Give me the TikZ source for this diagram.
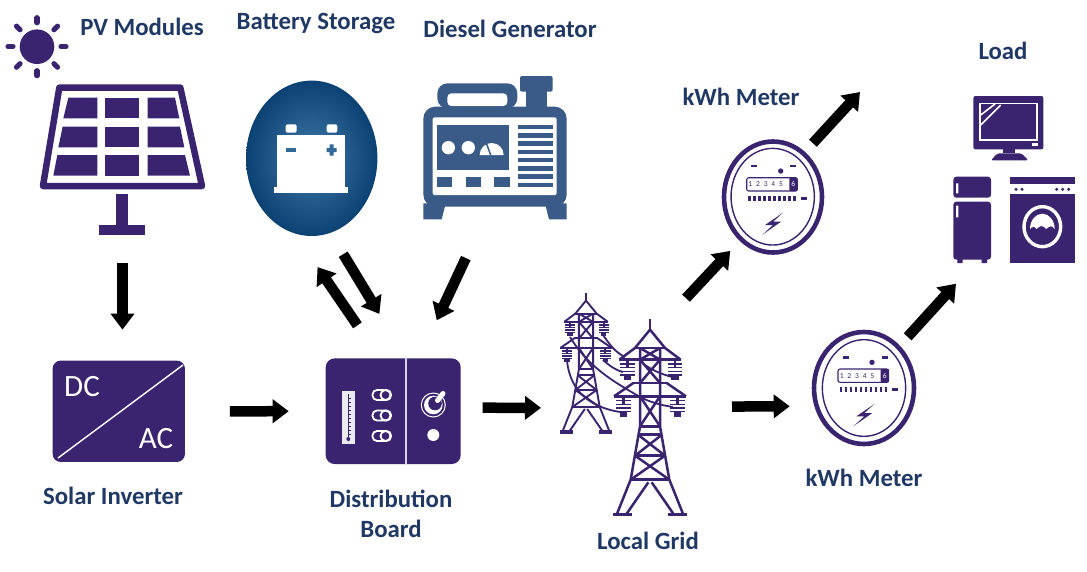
\documentclass[tikz,border=0pt]{standalone}
\usepackage{fontspec}
\setmainfont{Carlito}
\usetikzlibrary{arrows.meta,shapes.geometric}
\definecolor{iconpurple}{HTML}{3A2470}
\definecolor{labelnavy}{HTML}{1F3864}
\definecolor{gensteel}{HTML}{3A5B87}
\definecolor{battout}{HTML}{0C4273}
\definecolor{battin}{HTML}{3F78A8}
\tikzset{
  lbl/.style={font=\fontsize{24.8}{28}\selectfont\bfseries, text=labelnavy, align=center, inner sep=0pt},
  spot/.style={rectangle, inner sep=0pt, outer sep=0pt},
  flow/.style={->, line width=10.5pt, black},
  meterring/.style={ellipse, draw=iconpurple, line width=4.6pt, inner sep=0pt, outer sep=0pt, fill=white},
  pics/meterface/.style={code={
    \begin{scope}[scale=1/3, iconpurple]
      \draw[line width=1.4pt] (0,0) ellipse (125 and 145);
      \draw[line width=1.1pt, rounded corners=2pt] (-78,-57) rectangle (74,-17);
      \fill[rounded corners=1pt] (50,-57) rectangle (74,-17);
      \foreach \d in {1,...,5}
        \node[inner sep=0pt, font=\fontsize{7.5}{7.5}\selectfont, text=iconpurple] (dig\d) at (-90+\d*23,-37) {\d};
      \node[inner sep=0pt, font=\fontsize{7.5}{7.5}\selectfont, text=white] (dig6) at (62,-37) {6};
      \foreach \t in {0,...,9}
        \fill (-73+\t*15,-3) rectangle ++(7,16);
      \fill (84,1) rectangle (102,9);
      \fill (24,-77) circle (8);
      \fill (-64,-96) rectangle (-46,-88);
      \fill (53,-96) rectangle (71,-88);
      \fill (31,48) -- (-23,85) -- (1,85) -- (-31,114) -- (25,75) -- (1,75) -- cycle;
    \end{scope}
  }},
  pics/tower/.style={code={
    \begin{scope}[scale=1/3, draw=iconpurple, fill=iconpurple]
      \draw (0,0) -- (0,32);
      \draw (-92,122) -- (92,122) (-45,87) -- (45,87) (-50,192) -- (50,192) (-108,232) -- (108,232);
      \draw (-30,322) -- (30,322) (-36,347) -- (36,347) (-45,410) -- (45,410) (-58,482) -- (58,482);
      \draw (-30,87) -- (30,122) (30,87) -- (-30,122) (-30,122) -- (30,192) (30,122) -- (-30,192);
      \draw (-30,232) -- (30,322) (30,232) -- (-30,322);
      \draw (-36,347) -- (45,410) (36,347) -- (-45,410) (-45,410) -- (58,482) (45,410) -- (-58,482);
      \foreach \side in {-1,1} {
        \draw (0,32) -- (\side*45,87) -- (\side*92,122);
        \draw (\side*50,192) -- (\side*108,232);
        \draw (\side*30,87) -- (\side*30,322) -- (\side*58,482) -- (\side*100,587);
        \draw (\side*5,490) -- (\side*72,587);
        \draw[line width=3.4pt] (\side*55,587) -- (\side*110,587);
      }
      \foreach \ix/\iy in {-68/127,75/127,-80/237,82/237} {
        \draw (\ix,\iy) -- (\ix,\iy+20);
        \foreach \k in {8,19,30,41}
          \draw[line width=1.4pt] (\ix-22,\iy+\k) -- (\ix+22,\iy+\k);
        \fill (\ix-11,\iy+38) rectangle (\ix+11,\iy+56);
      }
    \end{scope}
  }}
}
\begin{document}
\begin{tikzpicture}[x=1pt, y=-1pt, >={Triangle[length=16pt,width=23pt]}]
  \useasboundingbox (0,0) rectangle (1087,571);
  % labels
  \node[lbl] (lblPV) at (142,27) {PV Modules};
  \node[lbl] (lblBatt) at (316,23) {Battery Storage};
  \node[lbl] (lblDiesel) at (510,29) {Diesel Generator};
  \node[lbl] (lblMeterA) at (741,97) {kWh Meter};
  \node[lbl] (lblLoad) at (1003,51) {Load};
  \node[lbl] (lblInv) at (113,496) {Solar Inverter};
  \node[lbl] (lblBoard) at (391,514) {Distribution\\[2pt]Board};
  \node[lbl] (lblGrid) at (648,541) {Local Grid};
  \node[lbl] (lblMeterB) at (864,478) {kWh Meter};
  % spots for the connectors
  \node[spot, minimum width=165pt, minimum height=152pt] (pv) at (122.5,159) {};
  \node[ellipse, inner sep=0pt, outer sep=0pt, minimum width=131.4pt, minimum height=155.4pt,
    shading=radial, inner color=battin, outer color=battout] (batt) at (311.7,158.3) {};
  \node[spot, minimum width=144pt, minimum height=144pt] (diesel) at (495,148) {};
  \node[spot, fill=iconpurple, rounded corners=8pt, minimum width=132.3pt, minimum height=101.3pt] (inv) at (118.8,411.3) {};
  \node[spot, fill=iconpurple, rounded corners=9pt, minimum width=135pt, minimum height=105.7pt] (board) at (393.2,411.2) {};
  \node[spot, minimum width=128pt, minimum height=232pt] (grid) at (622,409) {};
  \node[meterring, minimum width=98pt, minimum height=111pt] (meterA) at (773,197) {};
  \node[meterring, minimum width=100pt, minimum height=112pt] (meterB) at (864,388) {};
  \node[spot, minimum width=122pt, minimum height=168pt] (load) at (1014,179) {};
  \coordinate (meterTip) at (860,92);
  % sun
  \fill[iconpurple] (37,46.7) circle (17.3);
  \foreach \a in {0,45,...,315}
    \draw[iconpurple, line width=5.2pt, line cap=round] (37,46.7) ++(\a:24) -- ++(\a:5);
  % panel
  \begin{scope}[scale=1/3, iconpurple]
    \draw[line width=6.5pt, line join=round] (178,263) -- (541,263) -- (606,558) -- (129,558) -- cycle;
    \foreach \ya/\yb/\la/\lb/\ra/\rb in {293/355/205/190/525/538, 380/442/188/175/540/553, 465/527/172/160/555/570} {
      \fill (\la,\ya) -- (292,\ya) -- (292,\yb) -- (\lb,\yb) -- cycle;
      \fill (315,\ya) rectangle (418,\yb);
      \fill (443,\ya) -- (\ra,\ya) -- (\rb,\yb) -- (443,\yb) -- cycle;
    }
    \fill (347,583) rectangle (385,680);
    \fill (297,675) rectangle (435,705);
  \end{scope}
  % battery
  \begin{scope}[scale=1/3]
    \fill[white] (830,405) rectangle (1035,560);
    \fill[white] (823,560) rectangle (1045,580);
    \fill[white, rounded corners=2pt] (857,373) rectangle (890,398);
    \fill[white, rounded corners=2pt] (980,373) rectangle (1012,398);
    \fill[battin!70!battout] (857,445) rectangle (888,457);
    \fill[battin!70!battout] (980,444) rectangle (1010,456) (989,433) rectangle (1001,467);
  \end{scope}
  % generator
  \begin{scope}[shift={(400,60)}, scale=1/3, gensteel]
    \fill[rounded corners=2pt] (360,48) rectangle (458,95);
    \fill (378,90) rectangle (440,145);
    \fill[rounded corners=10pt] (112,145) -- (112,70) -- (352,70) -- (352,145) -- cycle;
    \fill[white, rounded corners=4pt] (142,138) -- (142,100) -- (322,100) -- (322,138) -- cycle;
    \fill[rounded corners=12pt] (70,440) -- (70,140) -- (500,140) -- (500,440) -- cycle;
    \fill (70,430) -- (70,478) -- (125,478) -- (137,430) -- cycle;
    \fill (435,430) -- (447,478) -- (500,478) -- (500,430) -- cycle;
    \fill[white, rounded corners=2pt] (98,172) rectangle (470,405);
    \fill (110,195) rectangle (328,330);
    \fill[white] (145,263) circle (20) (205,263) circle (20);
    \fill[white] (239,285) arc (180:360:36) -- cycle;
    \draw[line width=1.5pt] (260,252) -- (272,285);
    \foreach \bx in {110,197,283}
      \fill (\bx,350) rectangle ++(46,32);
    \foreach \ly in {195,219.7,244.4,269.1,293.8,318.5,343.2,368}
      \fill (354,\ly) rectangle (460,\ly+13);
  \end{scope}
  % inverter
  \draw[white, line width=1.4pt] (183,365) -- (58,458);
  \node[inner sep=0pt, font=\fontsize{31}{31}\selectfont, text=white] (dcText) at (82,387) {DC};
  \node[inner sep=0pt, font=\fontsize{31}{31}\selectfont, text=white] (acText) at (156,439) {AC};
  % board
  \draw[white!80!iconpurple, line width=1.5pt] (406,358.4) -- (406,464);
  \fill[white!90!iconpurple] (341.7,390.7) rectangle (355,444);
  \draw[iconpurple, line width=.7pt] (348.3,394) -- (348.3,439);
  \foreach \ty in {398,402,...,434}
    \draw[iconpurple, line width=.4pt] (348.3,\ty) -- (351,\ty);
  \fill[iconpurple] (348.3,439) circle (2);
  \foreach \py in {395,415.5,436} {
    \draw[white, line width=1.8pt, rounded corners=4.5pt] (372.5,\py-5) rectangle (391,\py+5);
    \draw[white, fill=iconpurple, line width=1.8pt] (385.5,\py) circle (5);
  }
  \draw[white, line width=1pt] (433.3,405) circle (12);
  \fill[white] (433.3,405) circle (9.3);
  \fill[iconpurple] (435,403.5) circle (6.8);
  \draw[white, line width=5pt, line cap=round] (437.5,400.5) -- (443,393.5);
  \fill[white] (433.3,435) circle (6);
  % towers
  \draw[iconpurple, line width=1.8pt] (603,335) .. controls (610,345) and (615,352) .. (625,357)
    (603,360) .. controls (610,366) and (615,370) .. (623,372)
    (567,360) .. controls (570,395) and (595,408) .. (620,412)
    (570,337) .. controls (590,370) and (620,385) .. (640,397) .. controls (650,402) and (660,405) .. (673,407)
    (645,365) .. controls (655,372) and (665,375) .. (675,378);
  \pic[line width=1.9pt] (towerS) at (586,293) [scale=.71] {tower};
  \pic[line width=2.5pt] (towerL) at (650,319) {tower};
  % meters
  \pic (faceA) at (772.7,196.7) {meterface};
  \pic (faceB) at (864,388) {meterface};
  % load
  \begin{scope}[shift={(940,85)}, scale=1/3, iconpurple]
    \fill[rounded corners=2pt] (100,33) rectangle (310,193);
    \draw[white, line width=1.6pt] (120,55) rectangle (291,165);
    \draw[white, line width=1.6pt] (122,90) -- (165,57) (122,120) -- (182,60);
    \fill[white] (277,175) rectangle (293,182);
    \fill (190,190) rectangle (225,205);
    \fill[rounded corners=2pt] (172,205) -- (245,205) -- (265,226) -- (153,226) -- cycle;
    \fill[rounded corners=3pt] (40,275) rectangle (153,338);
    \fill[rounded corners=3pt] (40,350) rectangle (153,524);
    \fill (52,515) rectangle (68,534) (125,515) rectangle (141,534);
    \fill[white] (48,295) rectangle (55,325) (48,362) rectangle (55,397);
    \fill (210,277) rectangle (405,298);
    \foreach \dx in {228,246,350,368,386}
      \fill (\dx,313) circle (5);
    \fill (210,328) rectangle (405,535);
    \draw[white, line width=3.4pt] (307,425) ellipse (55 and 60);
    \fill[white] (270,432) arc (180:360:37 and 46) .. controls (335,418) and (328,425) .. (318,432)
      .. controls (305,416) and (297,425) .. (290,432) .. controls (283,422) and (276,425) .. (270,432) -- cycle;
  \end{scope}
  % connectors
  \draw[flow, shorten <=28pt, shorten >=31pt] (pv.south) -- (inv.north -| pv.south);
  \draw[flow, shorten <=45pt, shorten >=37pt] (inv.east) -- (board.west);
  \draw[flow, shorten <=22pt, shorten >=17pt] (board.3) -- (grid.179);
  \draw[flow, shorten <=40pt, shorten >=41pt] (board.104) -- (batt.-103);
  \draw[flow, shorten <=25pt, shorten >=52pt] (batt.-76) -- (board.76);
  \draw[flow, shorten <=42pt, shorten >=42pt] (diesel.-99.5) -- (board.64.7);
  \draw[flow, shorten >=16pt] (grid.60) -- (meterA.-127);
  \draw[flow, shorten <=14pt] (meterA.55) -- (meterTip);
  \draw[flow, shorten <=46pt, shorten >=27pt] (grid.2.7) -- (meterB.-159);
  \draw[flow, shorten <=14pt, shorten >=28pt] (meterB.50) -- (load.-115.5);
\end{tikzpicture}
\end{document}
